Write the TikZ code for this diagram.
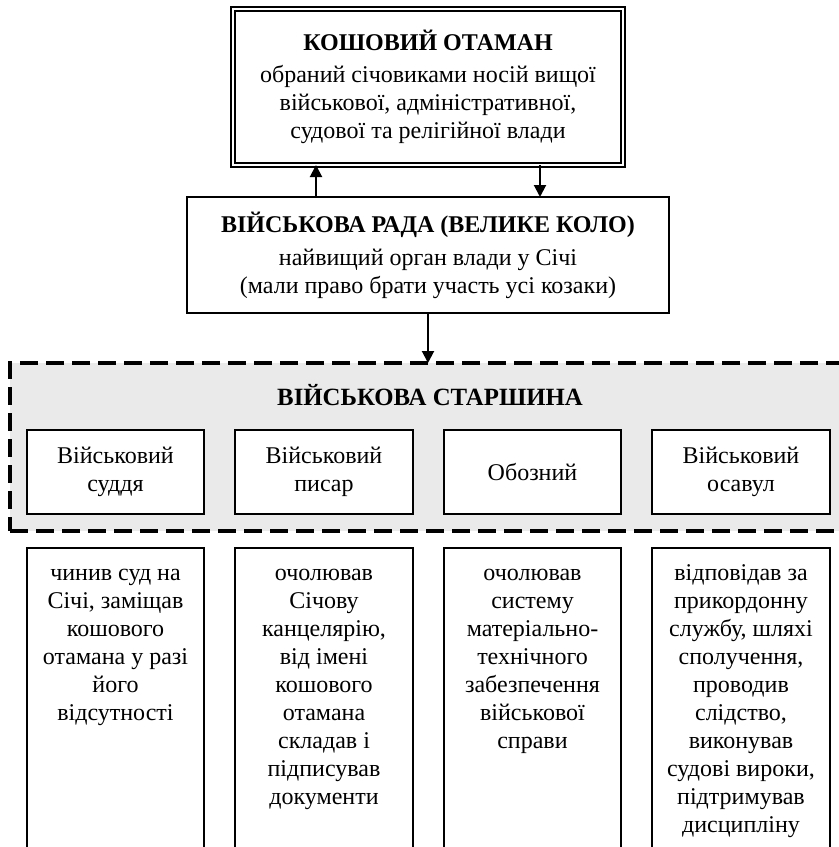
\documentclass[tikz,border=0pt]{standalone}
\usepackage{fontspec}
\setmainfont{Liberation Serif}
\usepackage{tikz}
\usetikzlibrary{positioning}
\usetikzlibrary {arrows.meta}
\definecolor{regiongray}{HTML}{EAEAEA}
\tikzset{headbox/.style={rectangle,draw=black,fill=white,double,line width=0.9pt,
double distance=0.8pt,align=center,outer sep=0pt,
minimum width=195pt,minimum height=78pt,font=\fontsize{12}{14}\selectfont}}
\tikzset{councilbox/.style={rectangle,draw=black,fill=white,line width=1.2pt,
align=center,outer sep=0pt,minimum width=241pt,minimum height=58pt,
font=\fontsize{12}{14}\selectfont}}
\tikzset{elderregion/.style={rectangle,draw=black,fill=regiongray,line width=1.6pt,
dash pattern=on 9pt off 4pt,outer sep=0pt,minimum width=420pt,minimum height=84pt}}
\tikzset{officebox/.style={rectangle,draw=black,fill=white,line width=1.2pt,
align=center,outer sep=0pt,minimum width=88.75pt,minimum height=42pt,
font=\fontsize{12}{14}\selectfont}}
\tikzset{dutyframe/.style={draw=black,line width=1.2pt}}
\tikzset{dutytext/.style={align=center,anchor=north,inner sep=0pt,
font=\fontsize{12}{14}\selectfont}}
\tikzset{linkarrow/.style={line width=1pt,-{Triangle[length=6pt,width=6pt]}}}

\begin{document}
\begin{tikzpicture}[x=0.5pt,y=-0.5pt]
    \useasboundingbox (0,0) rectangle (839,847);
    \clip (0,0) rectangle (839,847);

        \node[headbox] (otaman) at (428,87) {{\bfseries КОШОВИЙ ОТАМАН}\\[2pt]обраний січовиками носій вищої\\військової, адміністративної,\\судової та релігійної влади};
        \node[councilbox] (rada) [below=16pt of otaman] {{\bfseries ВІЙСЬКОВА РАДА (ВЕЛИКЕ КОЛО)}\\[2.5pt]найвищий орган влади у Січі\\(мали право брати участь усі козаки)};

        \draw [linkarrow] ([xshift=-56pt]rada.north) -- ([xshift=-56pt]otaman.south);
        \draw [linkarrow] ([xshift=56pt]otaman.south) -- ([xshift=56pt]rada.north);

        \node[elderregion] (starshyna) at (430,447) {};
        \node[font=\fontsize{12.4}{14}\selectfont\bfseries] (startitle) at (430,395) {ВІЙСЬКОВА СТАРШИНА};
        \draw [linkarrow] (rada.south) -- (rada.south |- starshyna.north);

        \node[officebox] (sud) at (115.5,472) {Військовий\\суддя};
        \node[officebox] (pysar) [right=15.5pt of sud] {Військовий\\писар};
        \node[officebox] (oboz) [right=15.5pt of pysar] {Обозний};
        \node[officebox] (osavul) [right=15.5pt of oboz] {Військовий\\осавул};

        \coordinate (dutytop) at (0,548);
        \coordinate (dutyend) at (0,880);
        \coordinate (dutyline) at (0,560);

        \draw[dutyframe] (sud.west |- dutytop) rectangle (sud.east |- dutyend);
        \draw[dutyframe] (pysar.west |- dutytop) rectangle (pysar.east |- dutyend);
        \draw[dutyframe] (oboz.west |- dutytop) rectangle (oboz.east |- dutyend);
        \draw[dutyframe] (osavul.west |- dutytop) rectangle (osavul.east |- dutyend);

        \node[dutytext] (sudduty) at (sud |- dutyline) {\strut чинив суд на\\Січі, заміщав\\кошового\\отамана у разі\\його\\відсутності};
        \node[dutytext] (pysarduty) at (pysar |- dutyline) {\strut очолював\\Січову\\канцелярію,\\від імені\\кошового\\отамана\\складав і\\підписував\\документи};
        \node[dutytext] (obozduty) at (oboz |- dutyline) {\strut очолював\\систему\\матеріально-\\технічного\\забезпечення\\військової\\справи};
        \node[dutytext] (osavulduty) at (osavul |- dutyline) {\strut відповідав за\\прикордонну\\службу, шляхі\\сполучення,\\проводив\\слідство,\\виконував\\судові вироки,\\підтримував\\дисципліну};

    \end{tikzpicture}
\end{document}
